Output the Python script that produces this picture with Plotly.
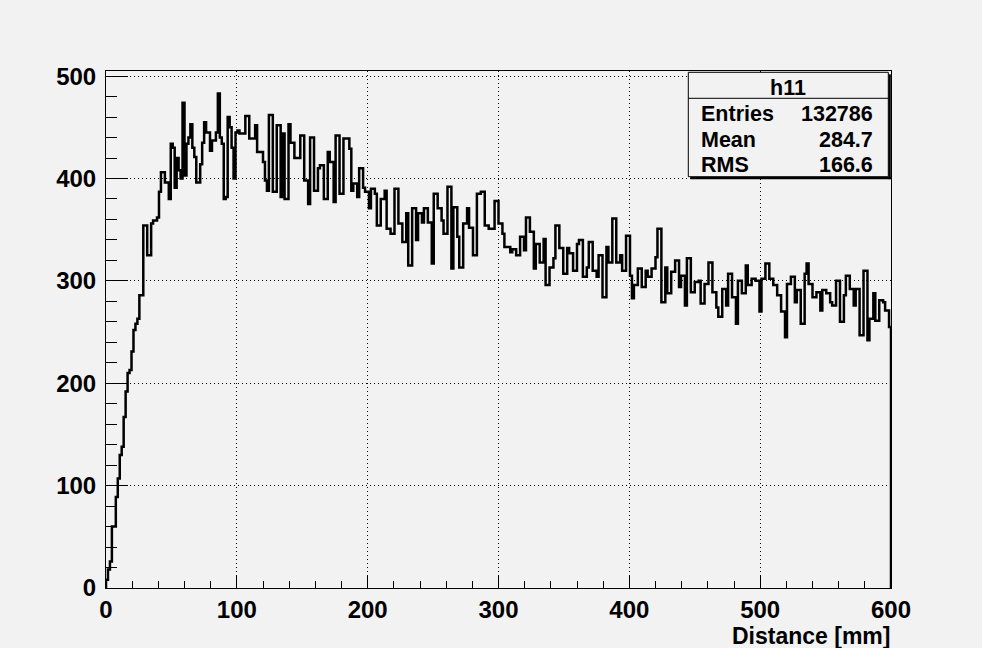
import plotly.graph_objects as go

# ---- data: histogram h11, 400 bins over 0..600 mm ----
X_MIN = 0.0
X_MAX = 600.0
counts = [
    8, 18, 26, 60, 60, 89, 107, 130, 138, 167,
    192, 210, 213, 231, 252, 258, 263, 286, 286, 354,
    354, 325, 325, 356, 359, 359, 362, 387, 406, 406,
    396, 396, 380, 434, 430, 391, 420, 408, 400, 474,
    403, 434, 440, 453, 430, 421, 396, 396, 414, 435,
    455, 445, 445, 427, 437, 437, 445, 483, 440, 434,
    380, 382, 460, 450, 430, 400, 445, 447, 444, 444,
    444, 461, 461, 439, 439, 439, 452, 426, 426, 426,
    416, 398, 388, 462, 462, 387, 387, 452, 452, 382,
    444, 380, 380, 453, 435, 435, 420, 420, 420, 442,
    442, 398, 398, 375, 440, 440, 388, 388, 410, 413,
    413, 380, 380, 426, 416, 416, 377, 442, 442, 385,
    385, 439, 439, 439, 429, 388, 395, 395, 382, 410,
    410, 391, 387, 387, 371, 390, 390, 385, 354, 354,
    380, 380, 388, 351, 351, 346, 346, 390, 390, 356,
    356, 338, 338, 366, 315, 315, 371, 371, 340, 366,
    366, 357, 371, 371, 357, 357, 317, 385, 385, 371,
    371, 359, 346, 346, 392, 392, 312, 372, 372, 343,
    313, 313, 356, 356, 371, 352, 352, 325, 325, 385,
    385, 387, 387, 354, 354, 351, 351, 351, 378, 378,
    356, 356, 346, 333, 333, 333, 328, 331, 331, 325,
    325, 343, 343, 330, 362, 362, 348, 348, 312, 336,
    336, 318, 318, 341, 296, 296, 313, 313, 322, 354,
    354, 332, 332, 307, 307, 332, 327, 327, 310, 310,
    336, 340, 340, 304, 304, 313, 338, 338, 310, 310,
    304, 325, 325, 284, 284, 333, 318, 318, 361, 361,
    318, 318, 325, 310, 310, 344, 344, 305, 283, 296,
    296, 312, 312, 294, 294, 310, 304, 304, 312, 312,
    323, 351, 351, 279, 279, 313, 288, 288, 309, 309,
    320, 320, 294, 305, 305, 276, 322, 322, 289, 289,
    299, 299, 300, 278, 278, 297, 297, 318, 318, 289,
    289, 274, 265, 265, 292, 292, 276, 307, 307, 284,
    284, 258, 300, 300, 288, 288, 315, 296, 296, 302,
    302, 300, 300, 270, 302, 302, 317, 317, 302, 302,
    296, 296, 286, 286, 270, 270, 245, 297, 297, 304,
    304, 279, 291, 291, 258, 258, 307, 317, 297, 297,
    284, 284, 289, 289, 271, 291, 291, 288, 288, 279,
    276, 276, 300, 300, 260, 260, 286, 305, 305, 292,
    292, 276, 292, 292, 247, 247, 310, 310, 242, 263,
    263, 288, 261, 261, 281, 281, 279, 271, 271, 255,
]
hist_name = "h11"
stat_labels = ["Entries", "Mean", "RMS"]
stat_values = ["132786", "284.7", "166.6"]
x_title = "Distance [mm]"
x_ticks = [0, 100, 200, 300, 400, 500, 600]
y_ticks = [0, 100, 200, 300, 400, 500]

# ---- step outline from bin edges ----
n_bins = len(counts)
bw = (X_MAX - X_MIN) / n_bins
xs = [X_MIN]
ys = [0]
for i, c in enumerate(counts):
    xs += [X_MIN + i * bw, X_MIN + (i + 1) * bw]
    ys += [c, c]
xs.append(X_MAX)
ys.append(0)

BG = "#f2f2f2"
FONT = dict(family="Liberation Sans, Arial, Helvetica, sans-serif", size=24,
            color="black", weight="bold")

fig = go.Figure()
fig.add_trace(go.Scatter(x=xs, y=ys, mode="lines",
                         line=dict(color="black", width=2.5),
                         hoverinfo="skip", showlegend=False))

L, R, T, B = 106, 891, 71, 588
W, H = 982, 648


def px_x(p):
    return (p - L) / (R - L)


def px_y(p):
    return (B - p) / (B - T)


axis_common = dict(
    showline=True, linecolor="black", linewidth=1, mirror=True,
    ticks="inside", tickcolor="black", tickwidth=1,
    showgrid=True, gridcolor="black", griddash="1px,3px", gridwidth=1,
    zeroline=False, tickfont=FONT,
)

fig.update_xaxes(range=[X_MIN, X_MAX], tickvals=x_ticks, ticklen=13,
                 ticklabelstandoff=0,
                 minor=dict(dtick=20, ticks="inside", ticklen=7,
                            tickcolor="black", showgrid=False),
                 **axis_common)
fig.update_yaxes(range=[0, 505], tickvals=y_ticks, ticklen=22,
                 ticklabelstandoff=4,
                 minor=dict(dtick=20, ticks="inside", ticklen=11,
                            tickcolor="black", showgrid=False),
                 **axis_common)

# ---- stats box ----
bx0, bx1, by0, by1 = 688.3, 888.3, 72.3, 176.7
shapes = [
    dict(type="rect", xref="paper", yref="paper",
         x0=px_x(bx1), x1=px_x(bx1 + 2.5), y0=px_y(by1 + 2.5), y1=px_y(by0 + 2),
         fillcolor="black", line=dict(width=0)),
    dict(type="rect", xref="paper", yref="paper",
         x0=px_x(bx0 + 2), x1=px_x(bx1 + 2.5), y0=px_y(by1 + 2.5), y1=px_y(by1),
         fillcolor="black", line=dict(width=0)),
    dict(type="rect", xref="paper", yref="paper",
         x0=px_x(bx0), x1=px_x(bx1), y0=px_y(by1), y1=px_y(by0),
         fillcolor=BG, line=dict(color="black", width=1)),
    dict(type="line", xref="paper", yref="paper",
         x0=px_x(bx0), x1=px_x(bx1), y0=px_y(98.3), y1=px_y(98.3),
         line=dict(color="black", width=1)),
]

STAT_FONT = dict(FONT, size=21.5)
ann = [dict(text=hist_name, xref="paper", yref="paper", x=px_x(787.5), y=px_y(88),
            xanchor="center", yanchor="middle", showarrow=False, font=STAT_FONT)]
row_y = [113.5, 140, 165]
for lab, val, ry in zip(stat_labels, stat_values, row_y):
    ann.append(dict(text=lab, xref="paper", yref="paper", x=px_x(699), y=px_y(ry),
                    xanchor="left", yanchor="middle", showarrow=False, font=STAT_FONT))
    ann.append(dict(text=val, xref="paper", yref="paper", x=px_x(875), y=px_y(ry),
                    xanchor="right", yanchor="middle", showarrow=False, font=STAT_FONT))

ann.append(dict(text=x_title, xref="paper", yref="paper", x=px_x(892), y=px_y(636),
                xanchor="right", yanchor="middle", showarrow=False,
                font=dict(FONT, size=23)))

fig.update_layout(
    width=W, height=H,
    margin=dict(l=L, r=W - R, t=T, b=H - B, pad=0),
    paper_bgcolor=BG, plot_bgcolor=BG,
    shapes=shapes, annotations=ann, showlegend=False,
)

fig.write_html("out.html", config={"displayModeBar": False})
